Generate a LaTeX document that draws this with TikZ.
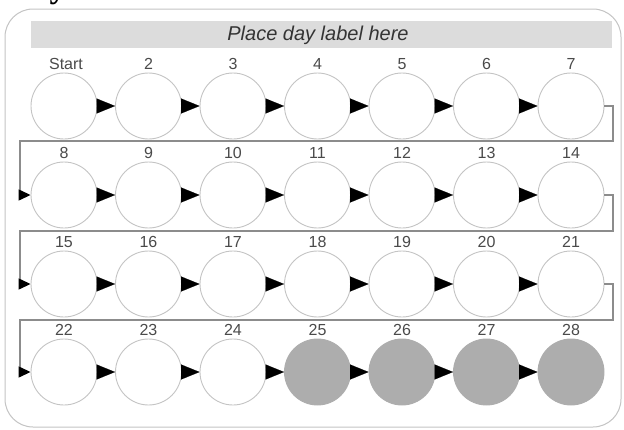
\documentclass[tikz,border=0pt]{standalone}
\usepackage{fontspec}
\setmainfont{Liberation Sans}
\newfontfamily\headserif{Liberation Serif}
\usetikzlibrary{arrows.meta}
\definecolor{rimgray}{HTML}{C4C4C4}
\definecolor{bargray}{HTML}{DCDCDC}
\definecolor{linegray}{HTML}{8C8C8C}
\definecolor{dotfill}{HTML}{ADADAD}
\definecolor{labgray}{HTML}{4A4A4A}
\tikzset{
  daycirc/.style={circle, minimum size=66pt, inner sep=0pt, draw=rimgray, line width=0.9pt, fill=white},
  doneday/.style={daycirc, fill=dotfill, draw=dotfill},
  daylab/.style={font=\fontsize{16}{16}\selectfont, text=labgray, inner sep=0pt},
  steparrow/.style={draw=black, line width=0.1pt, -{Triangle[length=18.5pt,width=15pt]}},
  wrapline/.style={draw=linegray, line width=1.3pt, -{Triangle[length=12pt,width=11pt,color=black]}},
  framebox/.style={draw=rimgray, line width=1pt, rounded corners=28pt}
}
\begin{document}
\begin{tikzpicture}[x=1pt,y=-1pt]
\useasboundingbox (0,0) rectangle (624,429);
\fill[white] (0,0) rectangle (624,429);
% cut heading fragment
\node[font=\headserif\bfseries\fontsize{34}{34}\selectfont, anchor=base, inner sep=0pt] (headfrag) at (58,-3) {y};
% frame
\draw[framebox] (5,9) rectangle (621,427);
% header bar
\fill[bargray] (31,21) rectangle (612,48);
\node[font=\itshape\fontsize{20}{20}\selectfont, text=labgray!70!black] (hdr) at (318,35) {Place day label here};
% circles
\foreach \r/\y in {0/106,1/195,2/284,3/372}{
  \foreach \c in {1,...,7}{
    \pgfmathtruncatemacro{\n}{\r*7+\c}
    \pgfmathsetmacro{\x}{64+(\c-1)*84.5}
    \ifnum\n>24
      \node[doneday] (c\n) at (\x,\y) {};
    \else
      \node[daycirc] (c\n) at (\x,\y) {};
    \fi
    \ifnum\n=1
      \node[daylab] (l\n) at (\x+2,\y-42) {Start};
    \else
      \node[daylab] (l\n) at (\x,\y-42) {\n};
    \fi
  }
}
% step arrows within rows
\foreach \r in {0,...,3}{
  \foreach \c in {1,...,6}{
    \pgfmathtruncatemacro{\a}{\r*7+\c}
    \pgfmathtruncatemacro{\b}{\a+1}
    \draw[steparrow] (c\a.east) -- (c\b.west);
  }
}
% wrap connectors
\coordinate (r1) at (613,141);
\coordinate (q1) at (20,141);
\coordinate (r2) at (613,231);
\coordinate (q2) at (20,231);
\coordinate (r3) at (613,320);
\coordinate (q3) at (20,320);
\draw[wrapline] (c7.east) -| (r1) -- (q1) |- (c8.west);
\draw[wrapline] (c14.east) -| (r2) -- (q2) |- (c15.west);
\draw[wrapline] (c21.east) -| (r3) -- (q3) |- (c22.west);
\end{tikzpicture}
\end{document}
